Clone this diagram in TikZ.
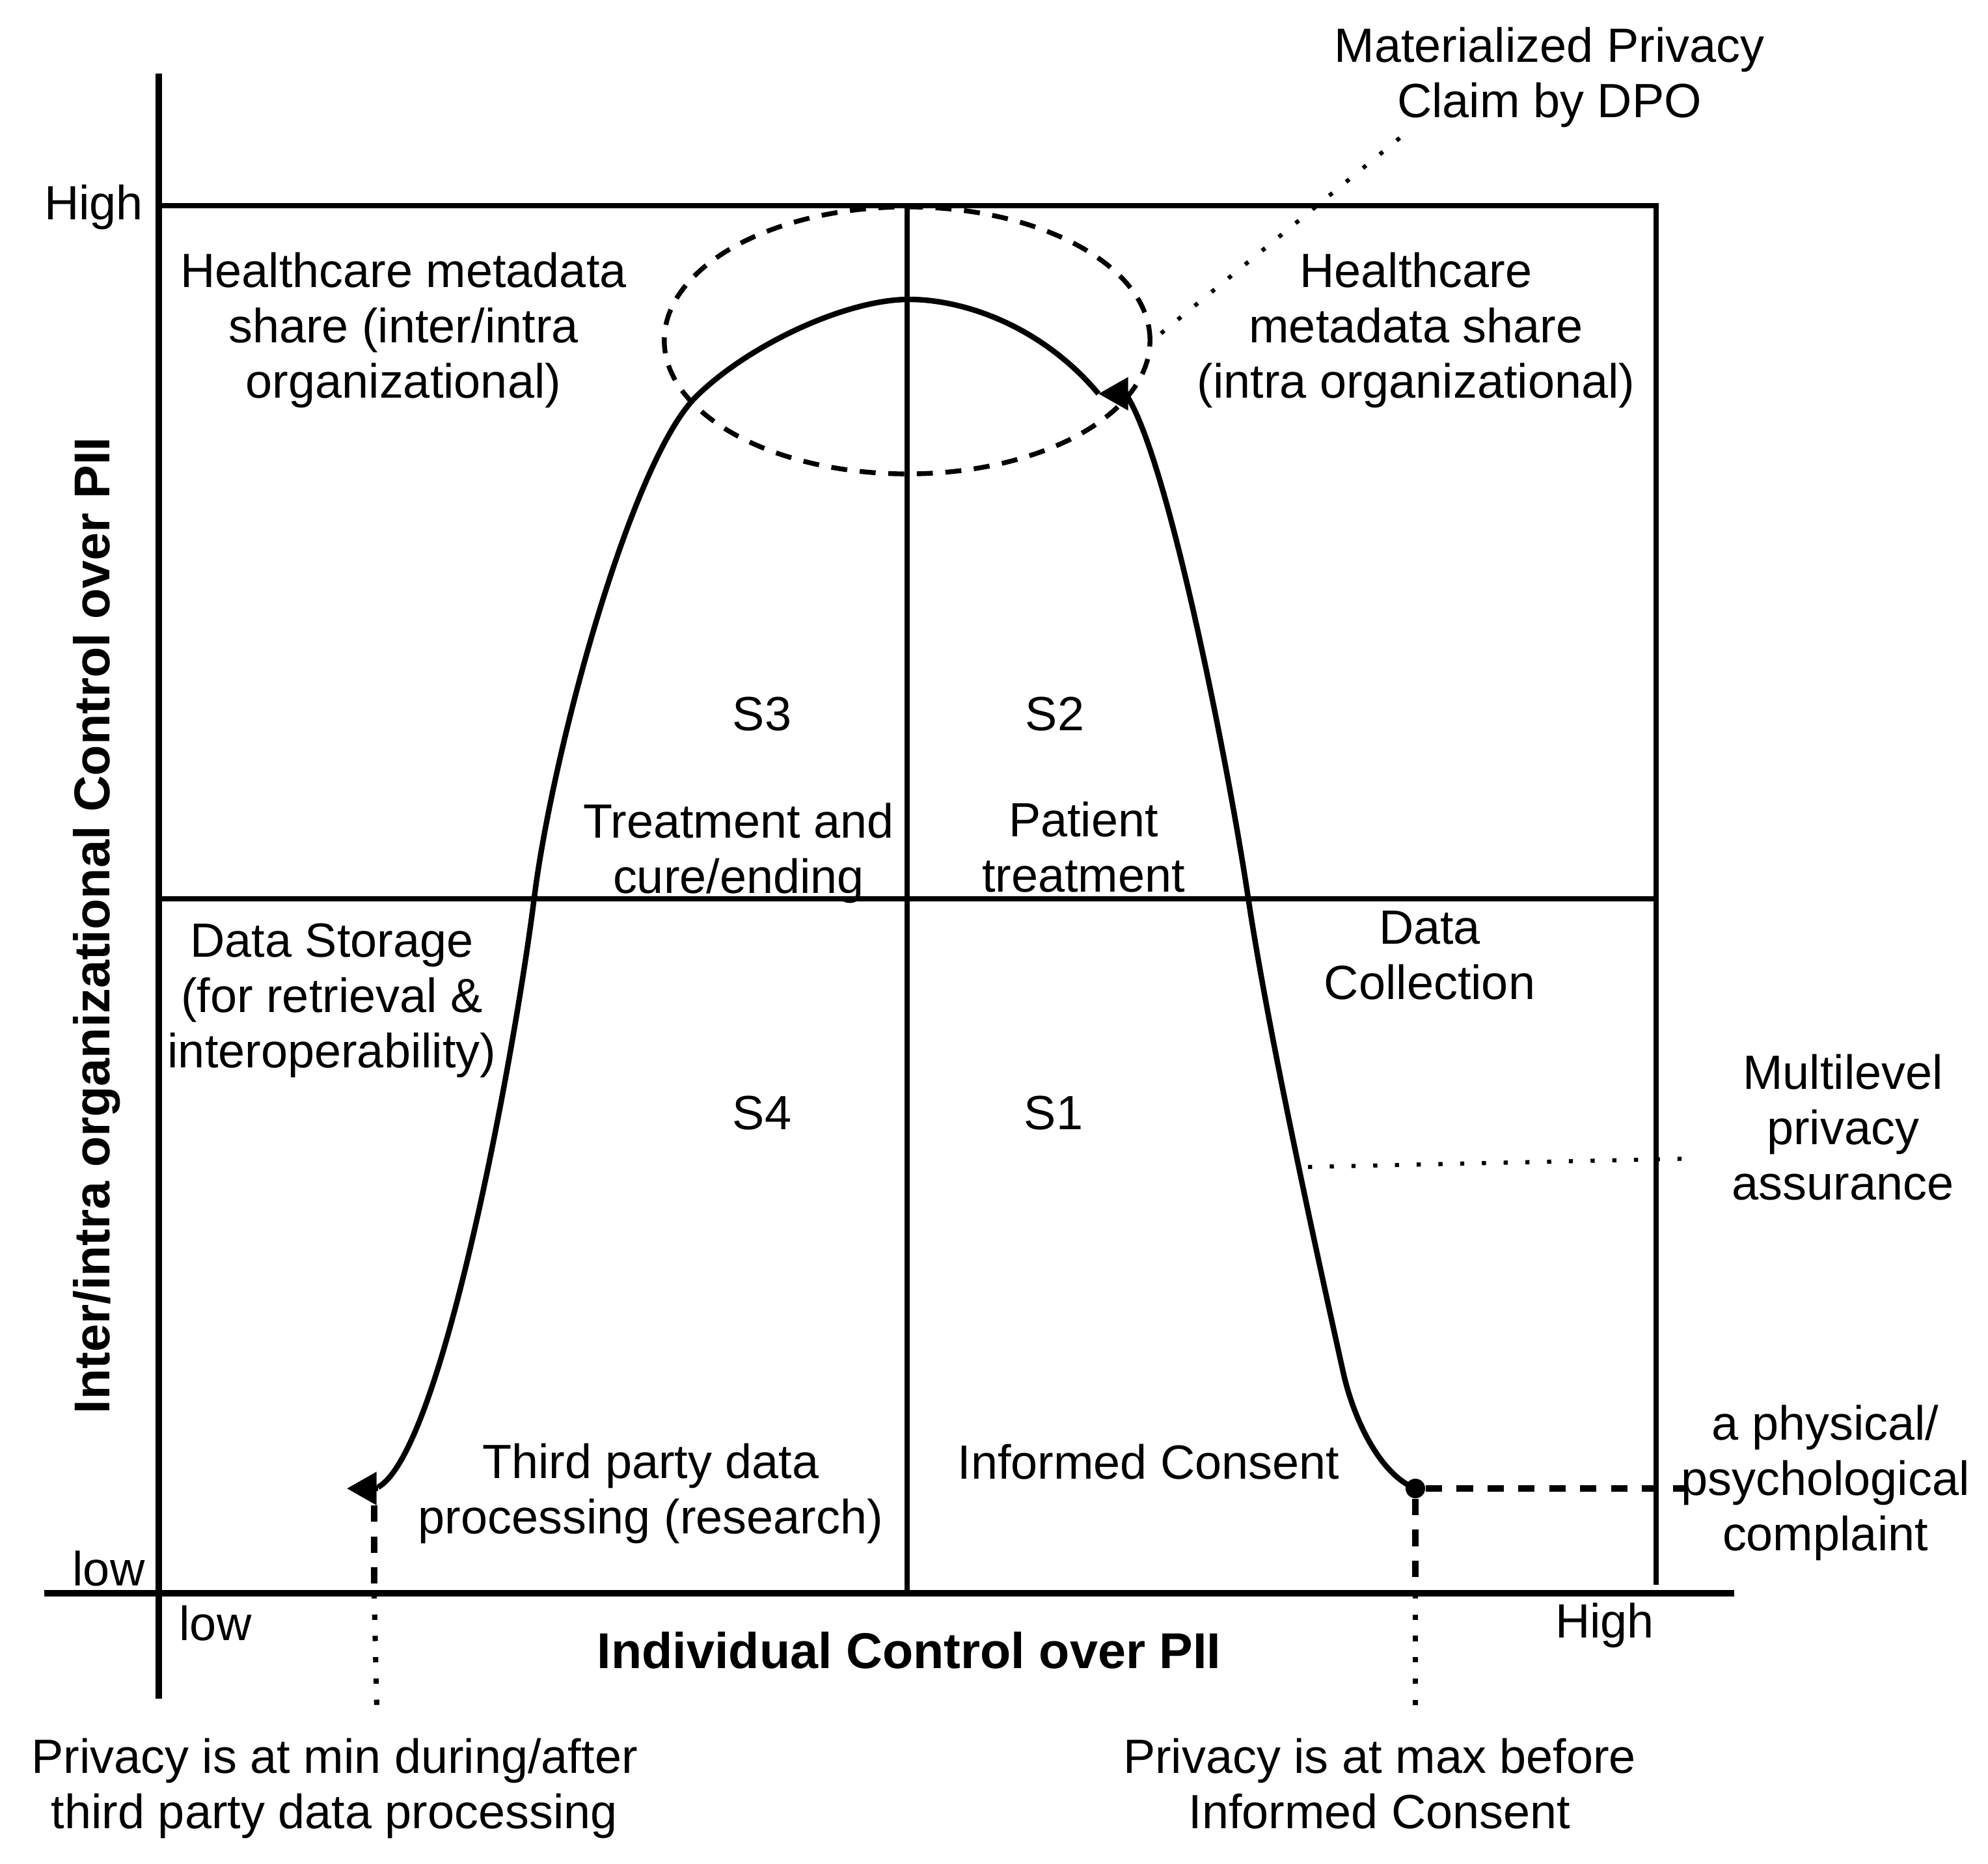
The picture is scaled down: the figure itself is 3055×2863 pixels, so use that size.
\documentclass[tikz,border=0pt]{standalone}
\usepackage{fontspec}
\setmainfont{Liberation Sans}
\usetikzlibrary{arrows.meta,shapes.geometric}
\newcommand\lblfont{\fontsize{21}{24.2}\selectfont}
\newcommand\axfont{\fontsize{22}{26}\selectfont\bfseries}
\tikzset{
  axisline/.style={line width=2.6pt},
  gridline/.style={line width=2.2pt},
  curveline/.style={line width=2.4pt},
  lbl/.style={font=\lblfont, align=center, inner sep=0pt},
  axlbl/.style={font=\axfont, align=center, inner sep=0pt},
  dotline/.style={line width=1.8pt, dash pattern=on 1.8pt off 7.7pt},
  dotlineb/.style={line width=2.3pt, dash pattern=on 2.3pt off 7pt},
  dashline/.style={line width=2.7pt, dash pattern=on 7.2pt off 6.3pt},
  claimstyle/.style={draw, ellipse, line width=2.1pt, dash pattern=on 7pt off 5.5pt,
    minimum width=7.46cm, minimum height=4.10cm, inner sep=0pt},
  tipstyle/.style={-{Triangle[length=13pt,width=14pt]}}
}
\begin{document}
\begin{tikzpicture}[x=0.01cm, y={(0cm,-0.01cm)}]
\useasboundingbox (0,0) rectangle (3055,2863);

% grid of the four quadrants
\draw[gridline] (244,316) -- (2545,316) -- (2545,2435);
\draw[gridline] (244,1381) -- (2545,1381);
\draw[gridline] (1394,316) -- (1394,2448);

% axes
\draw[axisline] (244,113) -- (244,2610);
\draw[axisline] (68,2448) -- (2665,2448);

% axis labels
\node[lbl] (yhigh) at (144,318) {High};
\node[lbl] (ylow) at (167,2410) {low};
\node[lbl] (xlow) at (331,2494) {low};
\node[lbl] (xhigh) at (2466,2497) {High};
\node[axlbl] (xlabel) at (1397,2536) {Individual Control over PII};
\node[axlbl, rotate=90] (ylabel) at (149,1422) {Inter/intra organizational Control over PII};

% quadrant texts
\node[lbl] (hcl) at (620,507) {Healthcare metadata\\share (inter/intra\\organizational)};
\node[lbl] (hcr) at (2176,507) {Healthcare\\metadata share\\(intra organizational)};
\node[lbl] (mpc) at (2381,119) {Materialized Privacy\\Claim by DPO};
\node[lbl] (s3) at (1171,1097) {S3};
\node[lbl] (s2) at (1621,1097) {S2};
\node[lbl] (s4) at (1171,1710) {S4};
\node[lbl] (s1) at (1619,1710) {S1};
\node[lbl] (treat) at (1135,1311) {Treatment and\\cure/ending};
\node[lbl] (patient) at (1665,1302) {Patient\\treatment};
\node[lbl] (storage) at (510,1537) {Data Storage\\(for retrieval \&\\interoperability)};
\node[lbl] (collect) at (2197,1468) {Data\\Collection};
\node[lbl] (multi) at (2832,1732) {Multilevel\\privacy\\assurance};
\node[lbl] (third) at (1000,2295) {Third party data\\processing (research)};
\node[lbl] (consent) at (1765,2246) {Informed Consent};
\node[lbl] (complaint) at (2805,2278) {a physical/\\psychological\\complaint};
\node[lbl] (pmin) at (514,2748) {Privacy is at min during/after\\third party data processing};
\node[lbl] (pmax) at (2120,2741) {Privacy is at max before\\Informed Consent};

% materialized privacy claim ellipse
\node[claimstyle] (claim) at (1394,523) {};
\coordinate (mpcTail) at (2151,212);
\draw[dotline] (mpcTail) -- (claim.east);

% privacy curve
\node[circle, fill, inner sep=0pt, minimum size=0.3cm] (dot) at (2175,2287) {};
\coordinate (tipR) at (1688,605);
\coordinate (backR) at (1731,605);
\coordinate (tipL) at (533,2287);
\coordinate (backL) at (581,2287);
\coordinate (peak) at (1397,460);
\coordinate (junL) at (1069,610);
\coordinate (midL) at (821,1379);
\coordinate (endL) at (581,2285);
\coordinate (lowR) at (2064,2108);
\coordinate (midR) at (1918,1379);
\coordinate (endR) at (1731,607);

\draw[curveline] (dot.center) .. controls (2120,2265) and (2080,2180) .. (lowR)
  .. controls (2016,1892) and (1948,1579) .. (midR)
  .. controls (1888,1179) and (1796,707) .. (endR);
\draw[curveline, tipstyle] (backR) -- (tipR);
\draw[curveline] (tipR) .. controls (1600,500) and (1480,460) .. (peak)
  .. controls (1300,460) and (1150,530) .. (junL)
  .. controls (970,710) and (850,1150) .. (midL)
  .. controls (792,1610) and (680,2230) .. (endL);
\draw[curveline, tipstyle] (backL) -- (tipL);

% leaders
\coordinate (mlA) at (2010,1793);
\coordinate (mlB) at (2604,1780);
\draw[dotline] (mlA) -- (mlB);

\coordinate (physTail) at (2593,2287);
\draw[dashline] (dot) -- (physTail);

\coordinate (maxAx) at (2175,2448);
\coordinate (maxEnd) at (2175,2625);
\draw[dashline] (dot.south) -- (maxAx);
\draw[dotlineb] (maxAx) -- (maxEnd);

\coordinate (minTop) at (575,2313);
\coordinate (minAx) at (575,2448);
\coordinate (minEnd) at (579,2625);
\draw[dashline] (minTop) -- (minAx);
\draw[dotlineb] (minAx) -- (minEnd);
\end{tikzpicture}
\end{document}
